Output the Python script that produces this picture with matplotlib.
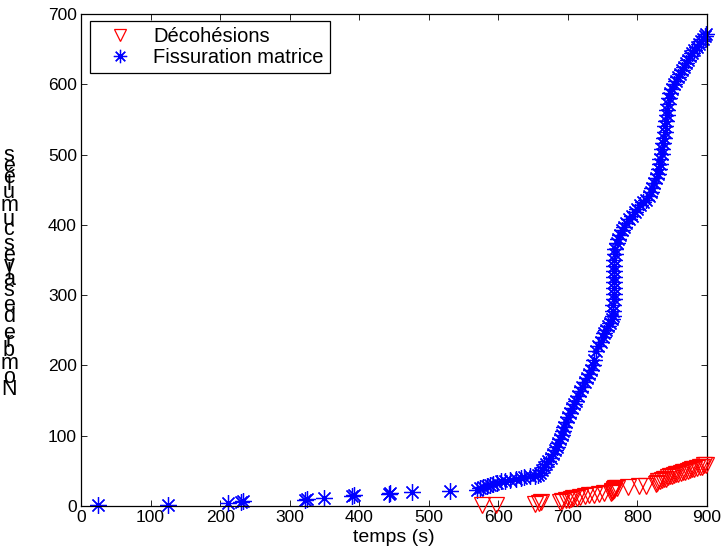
import numpy as np
import matplotlib
matplotlib.use("Agg")
from matplotlib import pyplot as plt
from matplotlib.font_manager import FontProperties, findfont, get_font

plt.rcParams['font.family'] = ['Liberation Sans', 'DejaVu Sans']

# cumulative event counts
fiss_t = [25, 125, 212, 230, 233, 322, 325, 350, 389, 393, 443, 444, 476, 531,
          570, 574, 578, 583, 588, 593, 598, 604, 610, 617, 625, 632, 637, 645, 652, 657,
          660, 663, 666, 669, 672, 675, 678, 681, 684, 686, 689, 691, 693, 695, 698, 700,
          703, 706, 709, 712, 715, 718, 721, 724, 727, 730, 733, 736, 738, 741, 744, 747,
          750, 752, 755, 758, 761, 763, 765,
          765, 765, 766, 766, 766, 766, 766, 767, 767, 767, 768, 768, 770, 772, 775, 778,
          781, 784, 788, 792, 796, 800, 804, 808, 812, 816, 819, 821, 824, 827, 829, 831,
          832, 833, 835, 836, 837, 838, 839, 840, 841, 842, 843, 844, 845, 847, 849, 852,
          855, 858, 861, 864, 867, 870, 873, 876, 879, 882, 885, 888, 891, 894, 897, 899]
fiss_n = [1, 2, 4, 6, 7, 9, 10, 12, 14, 15, 17, 18, 20, 22,
          23, 25, 27, 29, 30, 32, 33, 35, 36, 37, 39, 40, 41, 42, 43, 44,
          47, 51, 56, 60, 64, 69, 74, 79, 84, 89, 95, 101, 107, 113, 120, 126,
          132, 139, 145, 150, 156, 163, 170, 176, 182, 188, 194, 201, 208, 220, 227, 234,
          241, 246, 251, 256, 261, 266, 271,
          278, 286, 294, 302, 310, 318, 326, 334, 342, 350, 358, 366, 374, 380, 386, 392,
          397, 403, 408, 413, 418, 423, 428, 432, 436, 441, 447, 453, 459, 466, 473, 480,
          487, 494, 501, 508, 516, 524, 532, 540, 548, 556, 564, 572, 580, 587, 594, 600,
          605, 610, 615, 620, 625, 630, 635, 640, 645, 649, 653, 657, 661, 665, 668, 671]

deco_t = [577, 596, 653, 658, 662, 688, 692, 697, 701, 704, 708, 713, 718, 724, 731,
          738, 745, 752, 762, 763, 764, 765, 766, 767, 768, 770, 787, 802, 813,
          826, 828, 830, 832, 835, 838, 841, 844, 847, 850, 853, 856, 859, 862, 865,
          868, 872, 875, 878, 882, 886, 890, 893, 896, 899]
deco_n = [1, 2, 3, 4, 5, 6, 7, 8, 9, 10, 11, 12, 13, 14, 15,
          16, 17, 18, 19, 20, 21, 22, 23, 24, 25, 26, 27, 28, 29,
          31, 33, 35, 36, 37, 38, 39, 41, 42, 43, 44, 45, 46, 47, 48,
          49, 50, 51, 52, 53, 54, 55, 56, 58, 59]

x_ticks = [0, 100, 200, 300, 400, 500, 600, 700, 800, 900]
y_ticks = [0, 100, 200, 300, 400, 500, 600, 700]
ylabel = "Nombre de salves cumulées"

W, H = 721, 557
fig = plt.figure(figsize=(W / 100, H / 100), dpi=100)
ax = fig.add_axes([81 / W, 1 - 506 / H, 626 / W, 492 / H])

ax.plot(deco_t, deco_n, linestyle='none', marker='v', markersize=11,
        markerfacecolor='none', markeredgecolor='red', markeredgewidth=0.9,
        clip_on=False, label='Décohésions', zorder=3)
ax.plot(fiss_t, fiss_n, linestyle='none', marker=(8, 2, 0), markersize=12,
        markeredgecolor='blue', markeredgewidth=0.9, color='blue',
        clip_on=False, label='Fissuration matrice', zorder=2)

ax.set_xlim(0, 900)
ax.set_ylim(0, 700)
ax.set_xticks(x_ticks)
ax.set_yticks(y_ticks)
ax.tick_params(direction='in', length=4, width=0.6, top=True, right=True,
               labelsize=12.5, pad=3)
for sp in ax.spines.values():
    sp.set_linewidth(0.9)
ax.set_xlabel('temps (s)', fontsize=14, labelpad=3)

leg = ax.legend(loc='upper left', bbox_to_anchor=(9 / 626, 1 - 7 / 492),
                borderaxespad=0, fontsize=14.5, numpoints=1, fancybox=False,
                framealpha=1, edgecolor='black', handlelength=2.4,
                handletextpad=0.45, borderpad=0.3, labelspacing=0.1,
                markerscale=0.8)
leg.get_frame().set_linewidth(0.9)

# y label: upright glyphs stacked along a vertical line
font = get_font(findfont(FontProperties(family='Liberation Sans')))
font.set_size(14, 100)
adv = np.array([font.load_char(ord(c)).linearHoriAdvance / 65536 for c in ylabel])
scale = 246 / adv.sum()
start = np.concatenate([[0], np.cumsum(adv)[:-1]])
for c, s0, a in zip(ylabel, start, adv):
    if c == ' ':
        continue
    ypix = 397 - (s0 + a / 2) * scale
    fig.text(9 / W, 1 - ypix / H, c, ha='center', va='center', fontsize=15.5)

fig.savefig('out.png', dpi=100)
